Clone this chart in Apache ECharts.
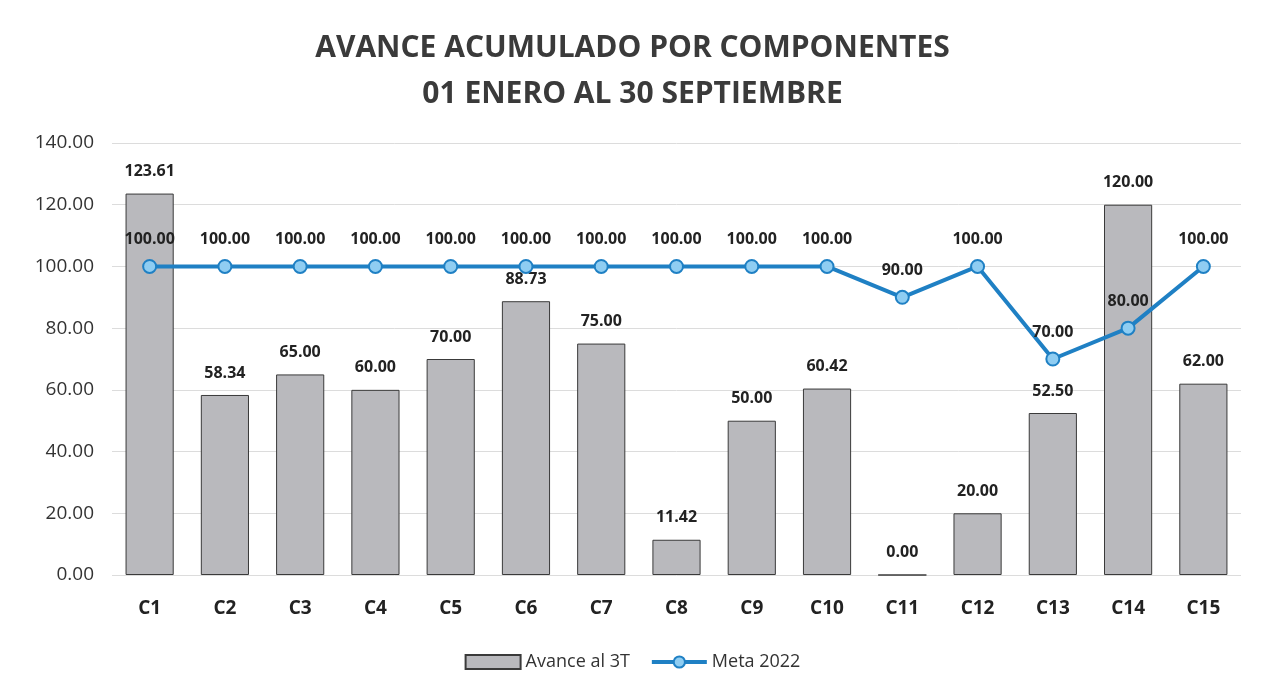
<!DOCTYPE html>
<html>
<head>
<meta charset="utf-8">
<script src="https://cdn.jsdelivr.net/npm/echarts@6/dist/echarts.min.js"></script>
<style>
  html, body { margin: 0; padding: 0; background: #fff; }
  #chart { width: 1265px; height: 700px; }
</style>
</head>
<body>
<div id="chart"></div>
<script>
// datos
var componentes = ["C1", "C2", "C3", "C4", "C5", "C6", "C7", "C8", "C9", "C10", "C11", "C12", "C13", "C14", "C15"];
var avance3T = [123.61, 58.34, 65.0, 60.0, 70.0, 88.73, 75.0, 11.42, 50.0, 60.42, 0.0, 20.0, 52.5, 120.0, 62.0];
var meta2022 = [100, 100, 100, 100, 100, 100, 100, 100, 100, 100, 90, 100, 70, 80, 100];

var myChart = echarts.init(document.getElementById("chart"));
var fuente = "'Open Sans', 'Liberation Sans', sans-serif";

var option = {
  backgroundColor: "#ffffff",
  animation: false,
  title: {
    text: "AVANCE ACUMULADO POR COMPONENTES\n01 ENERO AL 30 SEPTIEMBRE",
    left: "center",
    top: 20,
    textStyle: {
      fontFamily: fuente,
      fontSize: 30,
      fontWeight: "bold",
      color: "#3a3a3a",
      lineHeight: 46,
    },
  },
  legend: {
    bottom: 24,
    left: "center",
    itemWidth: 55,
    itemHeight: 14,
    itemGap: 20,
    textStyle: { fontFamily: fuente, fontSize: 18, color: "#333" },
    data: [
      { name: "Avance al 3T", icon: "rect" },
      { name: "Meta 2022", lineStyle: { width: 4 } },
    ],
  },
  grid: {
    left: 112,
    right: 24,
    top: 143,
    bottom: 125,
  },
  xAxis: {
    type: "category",
    data: componentes,
    axisLine: { show: false },
    axisTick: { show: false },
    axisLabel: {
      fontFamily: fuente,
      fontSize: 19,
      fontWeight: "bold",
      color: "#222",
      margin: 24,
    },
  },
  yAxis: {
    type: "value",
    min: 0,
    max: 140,
    interval: 20,
    axisLine: { show: false },
    axisTick: { show: false },
    axisLabel: {
      fontFamily: fuente,
      fontSize: 19,
      color: "#333",
      margin: 18,
      formatter: function (v) { return v.toFixed(2); },
    },
    splitLine: { lineStyle: { color: "#dcdcdc", width: 1 } },
  },
  series: [
    {
      name: "Avance al 3T",
      type: "bar",
      data: avance3T,
      barWidth: "64%",
      itemStyle: {
        color: "#b9b9bd",
        borderColor: "#3a3a3a",
        borderWidth: 1,
      },
      label: {
        show: true,
        position: "top",
        distance: 14,
        fontFamily: fuente,
        fontSize: 16,
        fontWeight: "bold",
        color: "#222",
        formatter: function (p) { return p.value.toFixed(2); },
      },
    },
    {
      name: "Meta 2022",
      type: "line",
      data: meta2022,
      symbol: "circle",
      symbolSize: 13,
      lineStyle: { color: "#1f80c4", width: 4 },
      itemStyle: {
        color: "#8fcdf2",
        borderColor: "#1f80c4",
        borderWidth: 2,
      },
      label: {
        show: true,
        position: "top",
        distance: 11,
        fontFamily: fuente,
        fontSize: 16,
        fontWeight: "bold",
        color: "#222",
        formatter: function (p) { return p.value.toFixed(2); },
      },
      z: 5,
    },
  ],
};

myChart.setOption(option);
</script>
</body>
</html>
